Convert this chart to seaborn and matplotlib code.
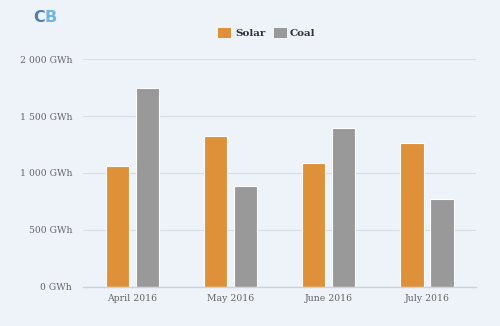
import matplotlib
matplotlib.use("Agg")
import matplotlib.pyplot as plt
import seaborn as sns
import pandas as pd
from matplotlib.patches import Rectangle

months = ["April 2016", "May 2016", "June 2016", "July 2016"]
solar = [1062, 1325, 1088, 1264]
coal = [1745, 888, 1393, 771]
series_names = ["Solar", "Coal"]
y_ticks = [0, 500, 1000, 1500, 2000]
y_tick_labels = ["0 GWh", "500 GWh", "1 000 GWh", "1 500 GWh", "2 000 GWh"]

df = pd.DataFrame({
    "month": months * 2,
    "value": solar + coal,
    "series": [series_names[0]] * 4 + [series_names[1]] * 4,
})

bg = "#EEF2F9"
colors = {"Solar": "#DF9139", "Coal": "#999999"}

sns.set_theme(style="white")
plt.rcParams["font.family"] = ["DejaVu Serif"]

fig = plt.figure(figsize=(5.0, 3.26), dpi=100, facecolor=bg)
ax = fig.add_axes([0.1667, 0.1206, 0.7853, 0.6975])
ax.set_facecolor(bg)

sns.barplot(data=df, x="month", y="value", hue="series", order=months,
            hue_order=series_names, palette=colors, width=0.612, gap=0.22,
            edgecolor="white", linewidth=0.8, saturation=1, ax=ax, legend=False)

ax.set_xlim(-0.5, 3.5)
ax.set_ylim(0, 2000)
ax.set_yticks(y_ticks)
ax.set_yticklabels(y_tick_labels)
ax.grid(axis="y", color="#D8DDE6", linewidth=0.8)
ax.set_axisbelow(True)
ax.set_xlabel("")
ax.set_ylabel("")
for s in ["top", "right", "left"]:
    ax.spines[s].set_visible(False)
ax.spines["bottom"].set_color("#C8D3E6")
ax.spines["bottom"].set_linewidth(1)

ax.tick_params(axis="y", length=0, pad=8, labelsize=6.7, labelcolor="#666666")
ax.tick_params(axis="x", which="major", length=0, pad=5, labelsize=6.7, labelcolor="#666666")
ax.set_xticks([-0.5, 0.5, 1.5, 2.5, 3.5], minor=True)
ax.tick_params(axis="x", which="minor", length=5, color="#C8D3E6", width=1)

# Legend
for name, xs, xt in [("Solar", 218, 235), ("Coal", 274, 290)]:
    fig.patches.append(Rectangle((xs / 500, 1 - 37.5 / 326), 13 / 500, 9.5 / 326,
                                 transform=fig.transFigure, facecolor=colors[name],
                                 edgecolor="none"))
    fig.text(xt / 500, 1 - 33 / 326, name, fontsize=7.5, fontweight="bold",
             color="#333333", va="center", ha="left")

# Logo
fig.text(33 / 500, 1 - 18 / 326, "C", fontsize=11.5, fontweight="bold",
         color="#4E7FAE", va="center", ha="left", family=["DejaVu Sans"])
fig.text(44.5 / 500, 1 - 18 / 326, "B", fontsize=11.5, fontweight="bold",
         color="#6DB5E6", va="center", ha="left", family=["DejaVu Sans"])

fig.savefig("out.png", dpi=100, facecolor=bg)
